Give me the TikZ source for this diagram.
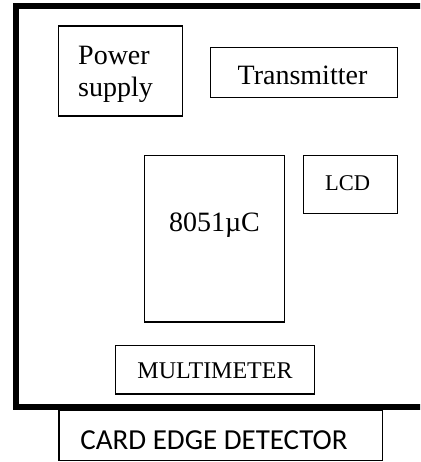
\documentclass[tikz,border=0pt]{standalone}
\usepackage{fontspec}
\setmainfont{Liberation Serif}
\newfontfamily\cardfont{Carlito}
\begin{document}
\begin{tikzpicture}[x=1pt,y=-1pt,
  box/.style={draw=black,line width=1.3pt},
  frame/.style={draw=black,line width=6pt},
  txt/.style={inner sep=0pt,anchor=base}]
\useasboundingbox (0,0) rectangle (420,462);
\clip (0,0) rectangle (420,462);
% outer frame (right side runs past the picture)
\draw[frame] (15.5,6) rectangle (450,407);
% boxes
\draw[box] (58.3,26) rectangle (182.3,116);
\draw[box] (210.7,47.3) rectangle (397.3,97.7);
\draw[box] (144.3,155.3) rectangle (284.3,322);
\draw[box] (303.7,155.3) rectangle (397.3,213.3);
\draw[box] (115.3,345.7) rectangle (314.7,394);
\draw[box] (59,410) rectangle (382.3,460.7);
% texts
\node[txt,anchor=base west,font=\fontsize{28}{32}\selectfont] (pw) at (78,65) {Power};
\node[txt,anchor=base west,font=\fontsize{28}{32}\selectfont] (sup) at (78,96.7) {supply};
\node[txt,font=\fontsize{28}{32}\selectfont] (tx) at (302.5,85) {Transmitter};
\node[txt,font=\fontsize{28}{32}\selectfont] (uc) at (214.5,231.7) {8051µC};
\node[txt,font=\fontsize{22.5}{26}\selectfont] (lcd) at (347.5,190) {LCD};
\node[txt,font=\fontsize{24}{28}\selectfont] (mm) at (215,378.3) {MULTIMETER};
\node[txt,font=\cardfont\fontsize{29}{33}\selectfont] (card) at (214,449) {CARD EDGE DETECTOR};
\end{tikzpicture}
\end{document}
